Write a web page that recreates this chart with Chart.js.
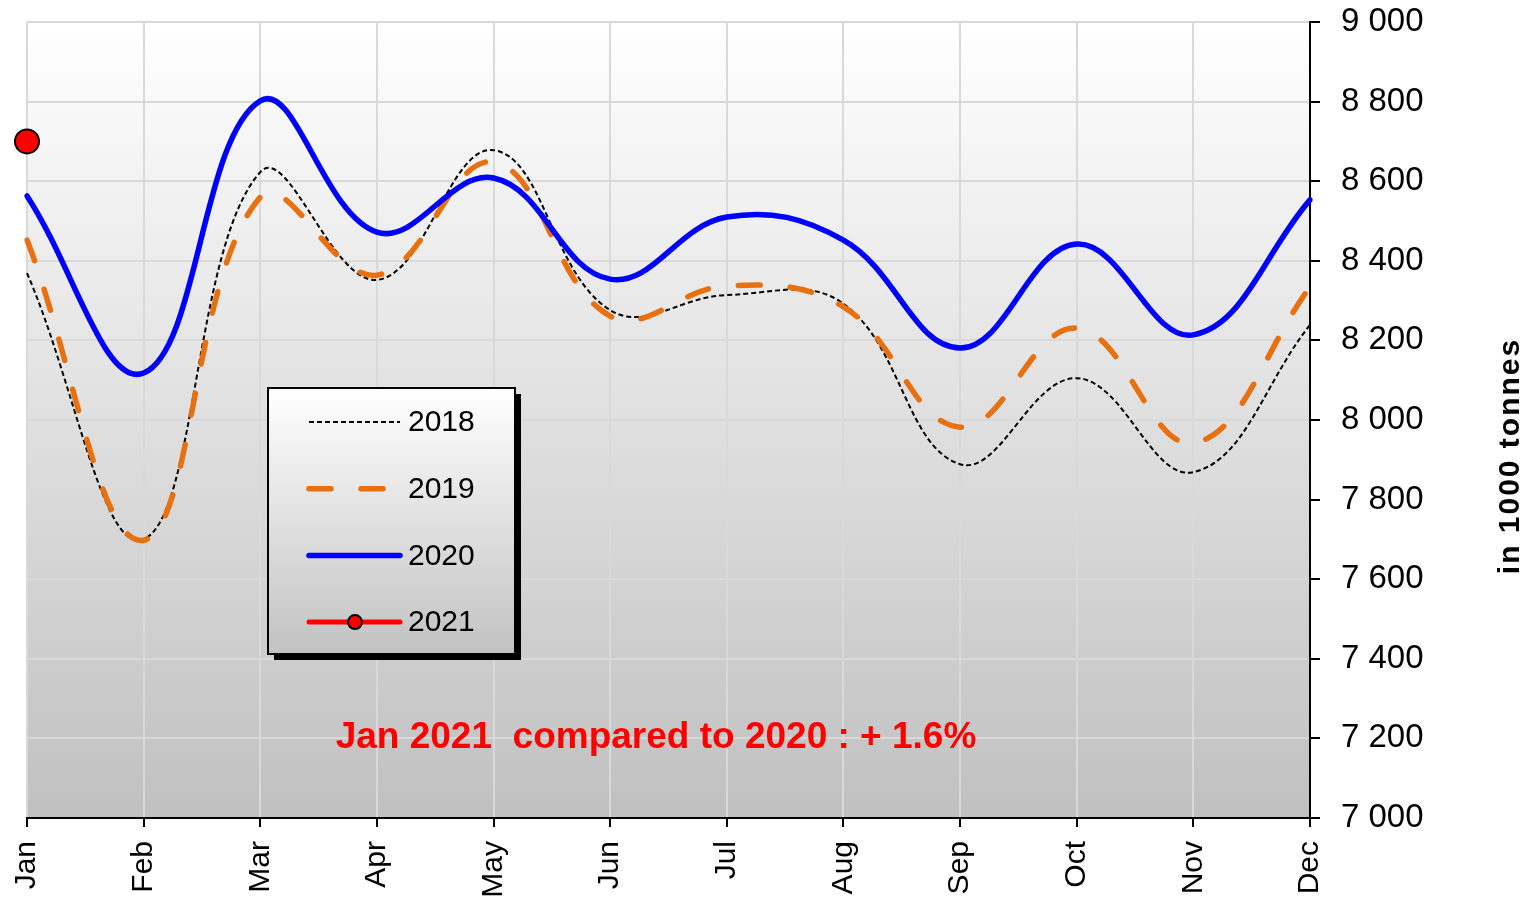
<!DOCTYPE html>
<html>
<head>
<meta charset="utf-8">
<script src="https://cdn.jsdelivr.net/npm/chart.js@4.4.0/dist/chart.umd.min.js"></script>
<style>
  html, body { margin: 0; padding: 0; background: #fff; }
  canvas { display: block; }
</style>
</head>
<body>
<canvas id="chart" width="1523" height="901"></canvas>
<script>
// ------------------------------------------------------------
// monthly volumes, in 1000 tonnes
// ------------------------------------------------------------
const months = ["Jan", "Feb", "Mar", "Apr", "May", "Jun", "Jul", "Aug", "Sep", "Oct", "Nov", "Dec"];
const data2018 = [8369, 7700, 8623, 8352, 8678, 8276, 8314, 8292, 7889, 8105, 7869, 8239];
const data2019 = [8452, 7698, 8560, 8364, 8648, 8261, 8337, 8284, 7982, 8231, 7942, 8334];
const data2020 = [8563, 8118, 8802, 8472, 8608, 8354, 8510, 8452, 8181, 8442, 8214, 8553];
const data2021 = [8700, null, null, null, null, null, null, null, null, null, null, null];

const yMin = 7000, yMax = 9000, yStep = 200;
const axisTitle = "in 1000 tonnes";
const note = "Jan 2021  compared to 2020 : + 1.6%";

const FONT = "'Liberation Sans', Arial, sans-serif";

function fmtThousands(v) {
  return String(v).replace(/\B(?=(\d{3})+(?!\d))/g, " ");
}

// gradient fill behind the plot
const plotBackground = {
  id: "plotBackground",
  beforeDraw(chart) {
    const { ctx, chartArea: a } = chart;
    const g = ctx.createLinearGradient(0, a.top, 0, a.bottom);
    g.addColorStop(0, "#ffffff");
    g.addColorStop(1, "#c0c0c0");
    ctx.save();
    ctx.fillStyle = g;
    ctx.fillRect(a.left, a.top, a.right - a.left, a.bottom - a.top);
    ctx.restore();
  }
};

// boxed legend, note and rotated axis title
const overlay = {
  id: "overlay",
  afterDraw(chart) {
    const ctx = chart.ctx;
    ctx.save();

    // legend box with drop shadow
    const bx = 268, by = 388, bw = 247, bh = 266;
    ctx.fillStyle = "#000";
    ctx.fillRect(bx + 6, by + 6, bw, bh);
    const g = ctx.createLinearGradient(0, by, 0, by + bh);
    g.addColorStop(0, "#ffffff");
    g.addColorStop(1, "#c2c2c2");
    ctx.fillStyle = g;
    ctx.fillRect(bx, by, bw, bh);
    ctx.lineWidth = 2;
    ctx.strokeStyle = "#000";
    ctx.strokeRect(bx, by, bw, bh);

    chart.data.datasets.forEach((ds, i) => {
      const ly = 422 + i * 66.7;
      ctx.save();
      ctx.strokeStyle = ds.borderColor;
      ctx.lineWidth = ds.borderWidth;
      ctx.lineCap = ds.borderCapStyle || "butt";
      ctx.setLineDash(ds.borderDash || []);
      ctx.beginPath();
      ctx.moveTo(309, ly);
      ctx.lineTo(400, ly);
      ctx.stroke();
      ctx.setLineDash([]);
      if (ds.pointRadius > 0) {
        ctx.beginPath();
        ctx.arc(355, ly, 7, 0, Math.PI * 2);
        ctx.fillStyle = ds.pointBackgroundColor;
        ctx.fill();
        ctx.lineWidth = 2;
        ctx.strokeStyle = ds.pointBorderColor;
        ctx.stroke();
      }
      ctx.restore();
      ctx.fillStyle = "#000";
      ctx.font = "30px " + FONT;
      ctx.textAlign = "left";
      ctx.textBaseline = "middle";
      ctx.fillText(ds.label, 408, ly + 1);
    });

    // comparison note
    ctx.fillStyle = "#ff0000";
    ctx.font = "bold 37px " + FONT;
    ctx.textAlign = "center";
    ctx.textBaseline = "alphabetic";
    ctx.fillText(note, 656, 748);

    // y axis title, reading upwards
    ctx.translate(1519, 456);
    ctx.rotate(-Math.PI / 2);
    ctx.fillStyle = "#000";
    ctx.font = "bold 30px " + FONT;
    ctx.letterSpacing = "2px";
    ctx.textAlign = "center";
    ctx.fillText(axisTitle, 0, 0);

    ctx.restore();
  }
};

const gridColor = "#d9d9d9";

new Chart(document.getElementById("chart"), {
  type: "line",
  data: {
    labels: months,
    datasets: [
      {
        label: "2018",
        data: data2018,
        borderColor: "#000000",
        borderWidth: 2,
        borderDash: [5, 3],
        pointRadius: 0,
        order: 4
      },
      {
        label: "2019",
        data: data2019,
        borderColor: "#e8700f",
        borderWidth: 5.5,
        borderDash: [22, 30],
        borderCapStyle: "round",
        pointRadius: 0,
        order: 3
      },
      {
        label: "2020",
        data: data2020,
        borderColor: "#0000ff",
        borderWidth: 5.5,
        borderCapStyle: "round",
        pointRadius: 0,
        order: 2
      },
      {
        label: "2021",
        data: data2021,
        borderColor: "#ff0000",
        borderWidth: 5,
        borderCapStyle: "round",
        pointRadius: 12,
        pointBackgroundColor: "#ff0000",
        pointBorderColor: "#000000",
        pointBorderWidth: 2,
        clip: false,
        order: 1
      }
    ]
  },
  options: {
    responsive: false,
    animation: false,
    layout: { padding: { left: 27, top: 22, right: 0, bottom: 0 } },
    elements: { line: { tension: 0.4, fill: false } },
    plugins: {
      legend: { display: false },
      tooltip: { enabled: false }
    },
    scales: {
      x: {
        offset: false,
        ticks: {
          autoSkip: false,
          minRotation: 90,
          maxRotation: 90,
          padding: 14,
          color: "#000",
          font: { family: FONT, size: 30 }
        },
        grid: { color: gridColor, lineWidth: 2, tickColor: "#000", tickLength: 9, tickWidth: 2 },
        border: { color: "#000", width: 2 },
        afterFit: s => {
          s.height = 83;
          s.paddingLeft = 0;
          s.paddingRight = 0;
        }
      },
      y: {
        position: "right",
        min: yMin,
        max: yMax,
        ticks: {
          stepSize: yStep,
          padding: 21,
          color: "#000",
          font: { family: FONT, size: 33 },
          callback: v => fmtThousands(v)
        },
        grid: { color: gridColor, lineWidth: 2, tickColor: "#000", tickLength: 10, tickWidth: 2 },
        border: { color: "#000", width: 2 },
        afterFit: s => {
          s.width = 213;
          s.paddingTop = 0;
          s.paddingBottom = 0;
        }
      }
    }
  },
  plugins: [plotBackground, overlay]
});
</script>
</body>
</html>
